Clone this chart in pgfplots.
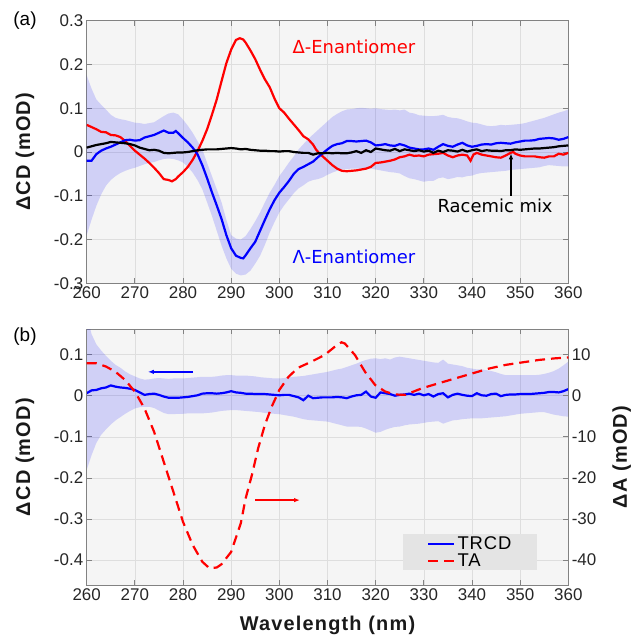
\documentclass[border=0pt]{standalone}
\usepackage{fontspec}
\setmainfont{Liberation Sans}
\newfontfamily\labfont[LetterSpace=6]{Liberation Sans}
\newfontfamily\legfont[LetterSpace=5]{Liberation Sans}
\newfontfamily\annfont{DejaVu Sans}
\usepackage{pgfplots}
\pgfplotsset{compat=1.18}
\usepgfplotslibrary{fillbetween}
\usetikzlibrary{arrows.meta}

\definecolor{bgc}{RGB}{245,245,245}
\definecolor{gridc}{RGB}{222,222,222}
\definecolor{framec}{RGB}{130,130,130}
\definecolor{myred}{RGB}{255,0,0}
\definecolor{myblue}{RGB}{0,0,255}
\definecolor{legc}{RGB}{228,228,228}

\tikzset{lab/.style={font=\labfont\bfseries\fontsize{20}{24}\selectfont, text=black!90}}
\pgfplotsset{
  mystyle/.style={
    scale only axis, width=481.6bp,
    xmin=260, xmax=360, xtick={260,270,280,290,300,310,320,330,340,350,360},
    axis line style={framec, line width=0.8bp},
    tick align=inside, major tick length=5bp, tick style={framec, line width=0.8bp},
    tick label style={font=\fontsize{17}{20}\selectfont, text=black!85},
    /pgf/number format/assume math mode=true,
    scaled ticks=false,
    yticklabel style={/pgf/number format/fixed},
    clip=true,
  },
  bgstyle/.style={
    grid=major, major grid style={gridc, line width=0.6bp},
    axis background/.style={fill=bgc},
  },
}

\begin{document}
\begin{tikzpicture}

% ---------------- panel (a)
\begin{axis}[mystyle, bgstyle, set layers,
  at={(86.7bp,353.7bp)}, anchor=south west, height=262.6bp,
  ymin=-0.3, ymax=0.3, ytick={-0.3,-0.2,-0.1,0,0.1,0.2,0.3},
  ylabel={ΔCD (mOD)},
  every axis y label/.style={at={(rel axis cs:-0.128,0.5)}, anchor=center, rotate=90, lab},
]
\coordinate (atl) at (rel axis cs:0,1);
\addplot[name path=AU, draw=none, forget plot] coordinates {
(260,0.175)(261,0.145)(262,0.120)(263,0.108)(264,0.097)(265,0.085)(266,0.078)(267,0.075)(268,0.073)(269,0.070)
(270,0.067)(271,0.066)(272,0.064)(273,0.066)(274,0.068)(275,0.075)(276,0.082)(277,0.088)(278,0.090)(279,0.086)
(280,0.074)(281,0.060)(282,0.044)(283,0.025)(284,0.006)(285,-0.025)(286,-0.055)(287,-0.085)(288,-0.115)(289,-0.155)
(290,-0.190)(291,-0.198)(292,-0.200)(293,-0.192)(294,-0.176)(295,-0.158)(296,-0.138)(297,-0.115)(298,-0.093)(299,-0.075)
(300,-0.055)(301,-0.040)(302,-0.024)(303,-0.010)(304,0.006)(305,0.018)(306,0.030)(307,0.040)(308,0.050)(309,0.060)
(310,0.070)(311,0.080)(312,0.087)(313,0.093)(314,0.097)(315,0.098)(316,0.100)(317,0.101)(318,0.100)(319,0.099)
(320,0.100)(321,0.098)(322,0.097)(323,0.096)(324,0.097)(325,0.095)(326,0.097)(327,0.090)(328,0.088)(329,0.084)
(330,0.083)(331,0.082)(332,0.082)(333,0.083)(334,0.085)(335,0.080)(336,0.078)(337,0.077)(338,0.074)(339,0.070)
(340,0.067)(341,0.066)(342,0.063)(343,0.060)(344,0.059)(345,0.060)(346,0.062)(347,0.061)(348,0.062)(349,0.063)
(350,0.064)(351,0.066)(352,0.069)(353,0.072)(354,0.075)(355,0.078)(356,0.082)(357,0.086)(358,0.090)(359,0.093)(360,0.097)};
\addplot[name path=AL, draw=none, forget plot] coordinates {
(260,-0.190)(261,-0.155)(262,-0.123)(263,-0.097)(264,-0.077)(265,-0.064)(266,-0.055)(267,-0.048)(268,-0.043)(269,-0.039)
(270,-0.036)(271,-0.032)(272,-0.028)(273,-0.025)(274,-0.023)(275,-0.019)(276,-0.016)(277,-0.015)(278,-0.016)(279,-0.019)
(280,-0.024)(281,-0.034)(282,-0.047)(283,-0.064)(284,-0.085)(285,-0.115)(286,-0.146)(287,-0.180)(288,-0.214)(289,-0.243)
(290,-0.267)(291,-0.278)(292,-0.282)(293,-0.280)(294,-0.271)(295,-0.255)(296,-0.237)(297,-0.212)(298,-0.184)(299,-0.160)
(300,-0.138)(301,-0.122)(302,-0.108)(303,-0.094)(304,-0.083)(305,-0.076)(306,-0.068)(307,-0.064)(308,-0.062)(309,-0.058)
(310,-0.052)(311,-0.047)(312,-0.043)(313,-0.040)(314,-0.039)(315,-0.038)(316,-0.038)(317,-0.038)(318,-0.037)(319,-0.038)
(320,-0.040)(321,-0.042)(322,-0.044)(323,-0.046)(324,-0.047)(325,-0.049)(326,-0.055)(327,-0.060)(328,-0.062)(329,-0.065)
(330,-0.068)(331,-0.066)(332,-0.066)(333,-0.060)(334,-0.058)(335,-0.062)(336,-0.060)(337,-0.057)(338,-0.058)(339,-0.055)
(340,-0.054)(341,-0.050)(342,-0.048)(343,-0.047)(344,-0.046)(345,-0.045)(346,-0.044)(347,-0.043)(348,-0.041)(349,-0.040)
(350,-0.039)(351,-0.038)(352,-0.037)(353,-0.036)(354,-0.035)(355,-0.032)(356,-0.030)(357,-0.031)(358,-0.032)(359,-0.033)(360,-0.033)};
\addplot[fill=myblue, fill opacity=0.15, draw=none, forget plot] fill between[of=AU and AL];

% Delta enantiomer (red)
\addplot[myred, line width=2.2bp] coordinates {
(260,0.062)(261,0.057)(262,0.052)(263,0.046)(264,0.045)(265,0.039)(266,0.038)(267,0.034)(268,0.025)(269,0.014)
(270,0.003)(271,-0.006)(272,-0.015)(273,-0.025)(274,-0.036)(275,-0.048)(276,-0.062)(277,-0.064)(277.7,-0.067)(278.5,-0.062)
(279,-0.056)(280,-0.046)(281,-0.034)(282,-0.018)(283,0.002)(284,0.025)(285,0.052)(286,0.085)(287,0.120)(288,0.162)
(289,0.203)(290,0.234)(291,0.256)(291.8,0.260)(292.5,0.257)(293,0.250)(294,0.232)(295,0.212)(296,0.188)(297,0.166)
(298,0.148)(299,0.122)(300,0.100)(301,0.090)(302,0.076)(303,0.063)(304,0.050)(305,0.036)(306,0.029)(307,0.017)
(307.6,0.006)(308.2,-0.002)(309,-0.010)(310,-0.020)(311,-0.030)(312,-0.038)(313,-0.043)(314,-0.044)(315,-0.043)(316,-0.042)
(317,-0.040)(318,-0.038)(319,-0.034)(320,-0.025)(321,-0.024)(322,-0.022)(323,-0.020)(324,-0.017)(325,-0.012)(326,-0.010)
(327,-0.006)(328,-0.009)(329,-0.008)(330,-0.010)(331,-0.006)(332,-0.005)(333,-0.004)(334,-0.002)(335,-0.008)(336,-0.012)
(337,-0.008)(338,-0.006)(339,-0.008)(339.7,-0.020)(340.3,-0.006)(341,-0.002)(342,-0.006)(343,-0.008)(344,-0.010)(345,-0.012)
(346,-0.013)(347,-0.008)(348,-0.002)(348.6,0.000)(349,-0.004)(350,-0.008)(351,-0.010)(352,-0.010)(353,-0.010)(354,-0.012)
(355,-0.013)(356,-0.010)(357,-0.010)(358,-0.004)(359,-0.006)(360,-0.002)};

% Lambda enantiomer (blue)
\addplot[myblue, line width=2.2bp] coordinates {
(260,-0.020)(261,-0.020)(262,-0.005)(263,0.003)(264,0.008)(265,0.012)(266,0.017)(267,0.022)(268,0.027)(269,0.028)
(270,0.026)(271,0.027)(272,0.033)(273,0.036)(274,0.039)(275,0.044)(276,0.049)(277,0.044)(278,0.044)(278.5,0.048)
(279,0.043)(280,0.032)(281,0.022)(282,0.010)(283,-0.005)(284,-0.030)(285,-0.060)(286,-0.092)(287,-0.122)(288,-0.153)
(289,-0.190)(290,-0.220)(291,-0.237)(292,-0.242)(292.5,-0.243)(293,-0.236)(294,-0.220)(295,-0.205)(296,-0.180)(297,-0.155)
(298,-0.131)(299,-0.110)(300,-0.093)(301,-0.080)(302,-0.066)(303,-0.050)(304,-0.039)(305,-0.034)(306,-0.028)(307,-0.022)
(308,-0.012)(309,-0.003)(310,0.006)(311,0.014)(312,0.018)(313,0.020)(314,0.025)(315,0.025)(316,0.024)(317,0.025)
(318,0.026)(319,0.022)(320,0.015)(321,0.016)(322,0.018)(323,0.015)(324,0.014)(325,0.018)(326,0.015)(327,0.010)
(328,0.008)(329,0.006)(330,0.006)(331,0.008)(332,0.005)(333,0.012)(334,0.018)(335,0.014)(336,0.012)(337,0.017)
(338,0.021)(339,0.015)(340,0.012)(341,0.014)(342,0.017)(343,0.018)(344,0.017)(345,0.020)(346,0.021)(347,0.020)
(348,0.019)(349,0.022)(350,0.024)(351,0.026)(352,0.026)(353,0.027)(354,0.030)(355,0.031)(356,0.032)(357,0.031)
(358,0.028)(359,0.030)(360,0.034)};

% Racemic (black)
\addplot[black, line width=2.2bp] coordinates {
(260,0.010)(261,0.013)(262,0.016)(263,0.018)(264,0.020)(265,0.023)(266,0.022)(267,0.021)(268,0.020)(269,0.018)
(270,0.015)(271,0.010)(272,0.007)(273,0.004)(274,0.005)(275,0.003)(276,-0.002)(277,-0.003)(278,-0.002)(279,-0.001)
(280,-0.001)(281,0.000)(282,0.002)(283,0.004)(284,0.005)(285,0.006)(286,0.006)(287,0.006)(288,0.007)(289,0.008)
(290,0.009)(291,0.008)(292,0.006)(293,0.007)(294,0.005)(295,0.004)(296,0.003)(297,0.003)(298,0.002)(299,0.002)
(300,0.001)(301,0.002)(302,0.002)(303,0.000)(304,-0.001)(305,-0.002)(306,-0.002)(307,-0.006)(308,-0.003)(309,-0.003)
(310,-0.002)(311,-0.003)(312,-0.002)(313,-0.003)(314,-0.003)(315,-0.001)(316,0.002)(317,-0.002)(318,0.004)(319,0.000)
(320,0.008)(321,0.006)(322,0.004)(323,0.003)(324,0.007)(325,0.002)(326,0.006)(327,0.004)(328,0.002)(329,0.004)
(330,0.001)(331,0.003)(332,-0.002)(333,0.003)(334,0.000)(335,0.004)(336,0.003)(337,0.001)(338,0.005)(339,0.001)
(340,0.004)(341,0.006)(342,0.002)(343,0.004)(344,0.003)(345,0.003)(346,0.002)(347,0.004)(348,0.004)(349,0.006)
(350,0.005)(351,0.006)(352,0.007)(353,0.008)(354,0.008)(355,0.009)(356,0.010)(357,0.011)(358,0.013)(359,0.014)(360,0.015)};

\node[font=\annfont\fontsize{18}{21}\selectfont, text=myred] at (axis cs:315.5,0.241) {Δ-Enantiomer};
\node[font=\annfont\fontsize{18}{21}\selectfont, text=myblue] at (axis cs:315.5,-0.240) {Λ-Enantiomer};
\node[font=\annfont\fontsize{18}{21}\selectfont, text=black] at (axis cs:344.8,-0.124) {Racemic mix};
\draw[black, line width=1.2bp, -{Latex[length=6bp,width=4.5bp]}] (axis cs:348.1,-0.100) -- (axis cs:348.1,-0.003);
\end{axis}
\node[font=\fontsize{19}{22}\selectfont] at ([xshift=-61.7bp]atl) {(a)};

% ---------------- panel (b), left axis
\begin{axis}[mystyle, bgstyle, set layers,
  at={(86.7bp,52bp)}, anchor=south west, height=255.7bp,
  ymin=-0.4606, ymax=0.1616, ytick={-0.4,-0.3,-0.2,-0.1,0,0.1}, ytick pos=left,
  ylabel={ΔCD (mOD)}, xlabel={Wavelength (nm)},
  every axis y label/.style={at={(rel axis cs:-0.128,0.5)}, anchor=center, rotate=90, lab},
  every axis x label/.style={at={(rel axis cs:0.5,0)}, anchor=center, yshift=-40bp, lab},
]
\coordinate (btl) at (rel axis cs:0,1);
\addplot[name path=BU, draw=none, forget plot] coordinates {
(260,0.200)(261,0.150)(262,0.125)(263,0.110)(264,0.097)(265,0.085)(266,0.075)(267,0.068)(268,0.059)(269,0.052)
(270,0.047)(271,0.042)(272,0.039)(273,0.040)(274,0.042)(275,0.043)(276,0.042)(277,0.041)(278,0.042)(279,0.042)
(280,0.042)(281,0.043)(282,0.044)(283,0.045)(284,0.046)(285,0.046)(286,0.046)(287,0.047)(288,0.049)(289,0.050)
(290,0.050)(291,0.049)(292,0.049)(293,0.049)(294,0.048)(295,0.047)(296,0.045)(297,0.044)(298,0.043)(299,0.042)
(300,0.042)(301,0.043)(302,0.045)(303,0.046)(304,0.047)(305,0.048)(306,0.050)(307,0.052)(308,0.054)(309,0.056)
(310,0.058)(311,0.061)(312,0.064)(313,0.066)(314,0.070)(315,0.074)(316,0.078)(317,0.083)(318,0.087)(319,0.090)
(320,0.091)(321,0.089)(322,0.091)(323,0.088)(324,0.093)(325,0.095)(326,0.093)(327,0.091)(328,0.089)(329,0.087)
(330,0.085)(331,0.083)(332,0.081)(333,0.080)(334,0.088)(335,0.078)(336,0.076)(337,0.074)(338,0.072)(339,0.068)
(340,0.066)(341,0.064)(342,0.064)(343,0.062)(344,0.060)(345,0.057)(346,0.053)(347,0.050)(348,0.050)(349,0.050)
(350,0.050)(351,0.050)(352,0.050)(353,0.050)(354,0.051)(355,0.053)(356,0.056)(357,0.060)(358,0.066)(359,0.074)(360,0.083)};
\addplot[name path=BL, draw=none, forget plot] coordinates {
(260,-0.180)(261,-0.145)(262,-0.115)(263,-0.095)(264,-0.082)(265,-0.070)(266,-0.060)(267,-0.052)(268,-0.044)(269,-0.037)
(270,-0.031)(271,-0.028)(272,-0.027)(273,-0.027)(274,-0.030)(275,-0.036)(276,-0.042)(277,-0.045)(278,-0.045)(279,-0.044)
(280,-0.044)(281,-0.043)(282,-0.043)(283,-0.043)(284,-0.043)(285,-0.042)(286,-0.041)(287,-0.039)(288,-0.037)(289,-0.036)
(290,-0.035)(291,-0.035)(292,-0.036)(293,-0.037)(294,-0.038)(295,-0.039)(296,-0.040)(297,-0.042)(298,-0.043)(299,-0.044)
(300,-0.045)(301,-0.047)(302,-0.049)(303,-0.051)(304,-0.054)(305,-0.057)(306,-0.059)(307,-0.060)(308,-0.061)(309,-0.062)
(310,-0.063)(311,-0.066)(312,-0.069)(313,-0.072)(314,-0.075)(315,-0.075)(316,-0.075)(317,-0.076)(318,-0.080)(319,-0.085)
(320,-0.090)(321,-0.088)(322,-0.083)(323,-0.079)(324,-0.076)(325,-0.075)(326,-0.072)(327,-0.070)(328,-0.069)(329,-0.068)
(330,-0.066)(331,-0.064)(332,-0.063)(333,-0.062)(334,-0.068)(335,-0.064)(336,-0.060)(337,-0.059)(338,-0.057)(339,-0.056)
(340,-0.055)(341,-0.055)(342,-0.055)(343,-0.054)(344,-0.053)(345,-0.052)(346,-0.051)(347,-0.050)(348,-0.048)(349,-0.046)
(350,-0.044)(351,-0.043)(352,-0.042)(353,-0.041)(354,-0.040)(355,-0.040)(356,-0.043)(357,-0.046)(358,-0.048)(359,-0.050)(360,-0.051)};
\addplot[fill=myblue, fill opacity=0.15, draw=none, forget plot] fill between[of=BU and BL];

\addplot[myblue, line width=2.2bp] coordinates {
(260,0.006)(261,0.013)(262,0.014)(263,0.018)(264,0.020)(265,0.025)(266,0.022)(267,0.020)(268,0.019)(269,0.017)
(270,0.014)(271,0.008)(272,0.002)(273,0.004)(274,0.005)(275,0.002)(276,-0.002)(277,-0.005)(278,-0.005)(279,-0.005)
(280,-0.004)(281,-0.003)(282,-0.001)(283,0.001)(284,0.005)(285,0.006)(286,0.006)(287,0.005)(288,0.006)(289,0.008)
(290,0.011)(291,0.008)(292,0.007)(293,0.005)(294,0.005)(295,0.004)(296,0.004)(297,0.004)(298,0.003)(299,0.002)
(300,0.001)(301,0.002)(302,0.002)(303,-0.001)(304,-0.004)(305,-0.011)(306,0.000)(307,-0.006)(308,-0.005)(309,-0.004)
(310,-0.004)(311,-0.004)(312,-0.003)(313,-0.004)(314,-0.006)(315,-0.002)(316,0.001)(317,0.002)(318,0.010)(319,-0.002)
(320,-0.005)(321,0.008)(322,0.006)(323,0.004)(324,0.000)(325,0.002)(326,0.003)(327,0.005)(328,0.002)(329,0.005)
(330,0.001)(331,0.004)(332,-0.002)(333,0.004)(334,0.006)(335,-0.004)(336,0.002)(337,0.005)(338,0.002)(339,0.000)
(340,-0.001)(341,0.006)(342,0.001)(343,0.000)(344,0.004)(345,0.005)(346,-0.001)(347,0.002)(348,0.003)(349,0.003)
(350,0.004)(351,0.004)(352,0.004)(353,0.005)(354,0.006)(355,0.007)(356,0.009)(357,0.009)(358,0.008)(359,0.011)(360,0.016)};

\draw[myblue, line width=1.3bp, -{Latex[length=6bp,width=4.5bp]}] (axis cs:282.1,0.058) -- (axis cs:272.7,0.058);
\end{axis}
\node[font=\fontsize{19}{22}\selectfont] at ([xshift=-61.7bp,yshift=-7.7bp]btl) {(b)};

% ---------------- panel (b), right axis
\begin{axis}[mystyle,
  at={(86.7bp,52bp)}, anchor=south west, height=255.7bp,
  hide x axis,
  ymin=-46.06, ymax=16.16, ytick={-40,-30,-20,-10,0,10}, ytick pos=right, yticklabel pos=right,
  ylabel={ΔA (mOD)},
  every axis y label/.style={at={(rel axis cs:1.111,0.5)}, anchor=center, rotate=90, lab},
  legend style={at={(rel axis cs:0.657,0.056)}, anchor=south west, fill=legc, draw=none,
    inner xsep=24bp, inner ysep=1bp, font=\legfont\fontsize{18.5}{19}\selectfont,
    row sep=0bp, nodes={inner ysep=1.5bp}, /tikz/every even column/.style={column sep=1bp}},
  legend cell align=left,
  legend image code/.code={\draw[#1] (0bp,0bp) -- (26bp,0bp);},
]
\addlegendimage{myblue, line width=2.2bp}
\addlegendentry{TRCD}
\addplot[myred, line width=2.2bp, dash pattern=on 10bp off 6bp] coordinates {
(260,7.9)(262,7.9)(264,7.1)(266,5.8)(268,3.8)(270,1.0)(272,-3.1)(274,-8.8)(276,-16.1)(278,-23.4)
(280,-30.7)(282,-36.3)(284,-40.4)(285.5,-42.0)(287,-41.8)(288,-41.0)(290,-38.0)(292,-31.0)(293,-25.0)(294.3,-19.3)
(295.6,-12.8)(297,-7.1)(298.4,-2.7)(300,1.4)(301.9,4.6)(303.9,6.8)(306.7,8.3)(309.4,9.9)(311.5,11.9)(312.9,13.0)
(313.6,12.7)(315.7,9.9)(317.8,5.8)(319.9,2.6)(322,1.0)(324,0.3)(326.1,0.2)(329.6,1.8)(333,3.0)(336.5,4.2)
(340,5.4)(343.5,6.6)(347,7.5)(350.4,8.1)(353.9,8.7)(357.3,9.1)(360,9.3)};
\addlegendentry{TA}
\draw[myred, line width=1.3bp, -{Latex[length=6bp,width=4.5bp]}] (axis cs:295.0,-25.4) -- (axis cs:304.3,-25.4);
\end{axis}

\pgfresetboundingbox
\useasboundingbox (0,0) rectangle (631bp,637bp);
\end{tikzpicture}
\end{document}
